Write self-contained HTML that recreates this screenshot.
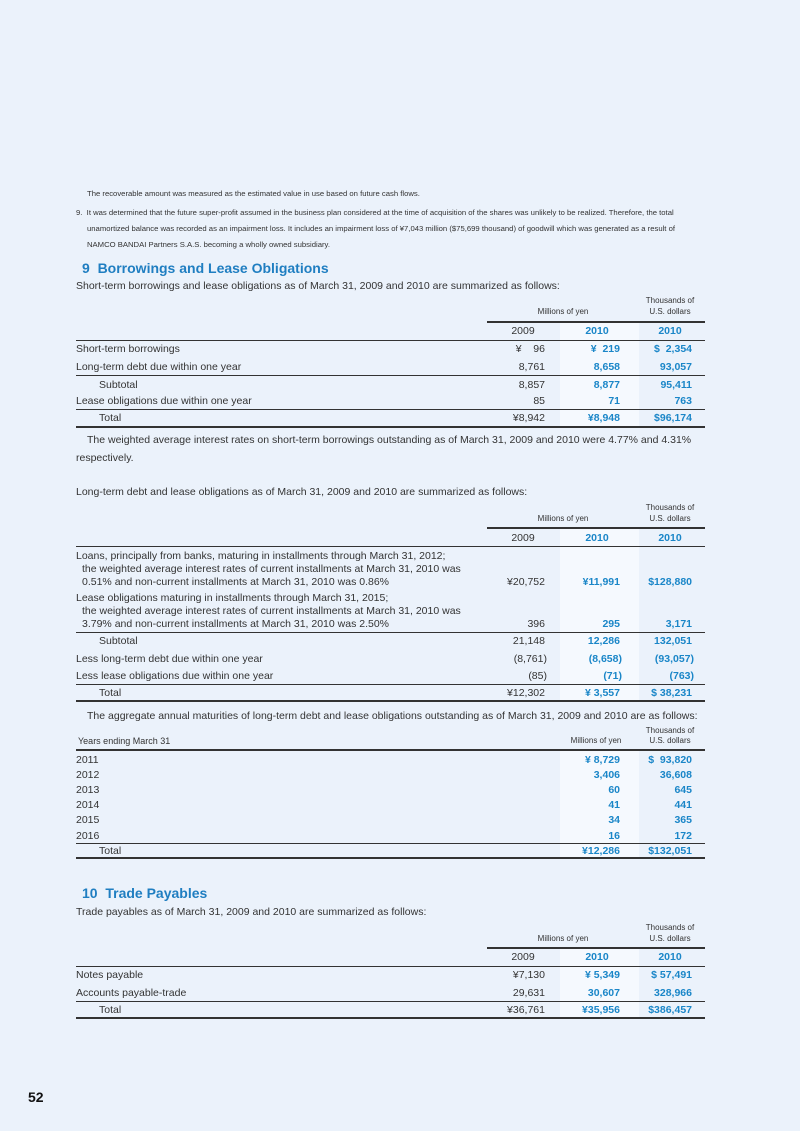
<!DOCTYPE html>
<html><head><meta charset="utf-8">
<style>
body{margin:0;}
#page{position:relative;width:800px;height:1131px;background:#ebf2fb;font-family:"Liberation Sans",sans-serif;color:#333;overflow:hidden;}
.t{position:absolute;white-space:nowrap;line-height:12px;font-size:10.5px;}
.s{font-size:7.7px;line-height:10px;}
.h{font-size:8px;line-height:10px;text-align:center;width:80px;}
.b{color:#1a86c8;font-weight:bold;}
.r{text-align:right;}
.c{text-align:center;width:60px;}
.ln{position:absolute;height:1px;background:#333;}
.tk{height:1.5px;}
.hl{position:absolute;background:#f5f9fe;}
h2{position:absolute;margin:0;font-size:14px;font-weight:bold;color:#1f7ec1;white-space:nowrap;line-height:16px;}
</style></head><body>
<div id="page">

<div class="t s" style="left:87px;top:189px">The recoverable amount was measured as the estimated value in use based on future cash flows.</div>
<div class="t s" style="left:76px;top:208px">9.&nbsp; It was determined that the future super-profit assumed in the business plan considered at the time of acquisition of the shares was unlikely to be realized. Therefore, the total</div>
<div class="t s" style="left:87px;top:224px">unamortized balance was recorded as an impairment loss. It includes an impairment loss of ¥7,043 million ($75,699 thousand) of goodwill which was generated as a result of</div>
<div class="t s" style="left:87px;top:240px">NAMCO BANDAI Partners S.A.S. becoming a wholly owned subsidiary.</div>

<!-- Section 9 -->
<h2 style="left:82px;top:260px">9&nbsp; Borrowings and Lease Obligations</h2>
<div class="t" style="left:76px;top:280px">Short-term borrowings and lease obligations as of March 31, 2009 and 2010 are summarized as follows:</div>

<div class="hl" style="left:560px;top:322px;width:79px;height:105px"></div>
<div class="t h" style="left:630px;top:296px">Thousands of</div>
<div class="t h" style="left:630px;top:307px">U.S. dollars</div>
<div class="t h" style="left:523px;top:307px">Millions of yen</div>
<div class="ln tk" style="left:487px;top:321px;width:218px"></div>
<div class="t c" style="left:493px;top:325px">2009</div>
<div class="t c b" style="left:567px;top:325px">2010</div>
<div class="t c b" style="left:640px;top:325px">2010</div>
<div class="ln" style="left:76px;top:340px;width:629px"></div>

<div class="t" style="left:76px;top:343px">Short-term borrowings</div>
<div class="t r" style="right:255px;top:343px">¥&nbsp;&nbsp;&nbsp;&nbsp;96</div>
<div class="t r b" style="right:180px;top:343px">¥&nbsp;&nbsp;219</div>
<div class="t r b" style="right:108px;top:343px">$&nbsp;&nbsp;2,354</div>
<div class="t" style="left:76px;top:361px">Long-term debt due within one year</div>
<div class="t r" style="right:255px;top:361px">8,761</div>
<div class="t r b" style="right:180px;top:361px">8,658</div>
<div class="t r b" style="right:108px;top:361px">93,057</div>
<div class="ln" style="left:76px;top:375px;width:629px"></div>
<div class="t" style="left:99px;top:379px">Subtotal</div>
<div class="t r" style="right:255px;top:379px">8,857</div>
<div class="t r b" style="right:180px;top:379px">8,877</div>
<div class="t r b" style="right:108px;top:379px">95,411</div>
<div class="t" style="left:76px;top:395px">Lease obligations due within one year</div>
<div class="t r" style="right:255px;top:395px">85</div>
<div class="t r b" style="right:180px;top:395px">71</div>
<div class="t r b" style="right:108px;top:395px">763</div>
<div class="ln" style="left:76px;top:409px;width:629px"></div>
<div class="t" style="left:99px;top:412px">Total</div>
<div class="t r" style="right:255px;top:412px">¥8,942</div>
<div class="t r b" style="right:180px;top:412px">¥8,948</div>
<div class="t r b" style="right:108px;top:412px">$96,174</div>
<div class="ln tk" style="left:76px;top:426px;width:629px"></div>

<div class="t" style="left:87px;top:434px">The weighted average interest rates on short-term borrowings outstanding as of March 31, 2009 and 2010 were 4.77% and 4.31%</div>
<div class="t" style="left:76px;top:452px">respectively.</div>

<!-- Long-term table -->
<div class="t" style="left:76px;top:486px">Long-term debt and lease obligations as of March 31, 2009 and 2010 are summarized as follows:</div>
<div class="hl" style="left:560px;top:528px;width:79px;height:172px"></div>
<div class="t h" style="left:630px;top:503px">Thousands of</div>
<div class="t h" style="left:630px;top:514px">U.S. dollars</div>
<div class="t h" style="left:523px;top:514px">Millions of yen</div>
<div class="ln tk" style="left:487px;top:527px;width:218px"></div>
<div class="t c" style="left:493px;top:532px">2009</div>
<div class="t c b" style="left:567px;top:532px">2010</div>
<div class="t c b" style="left:640px;top:532px">2010</div>
<div class="ln" style="left:76px;top:546px;width:629px"></div>

<div class="t" style="left:76px;top:550px">Loans, principally from banks, maturing in installments through March 31, 2012;</div>
<div class="t" style="left:82px;top:563px">the weighted average interest rates of current installments at March 31, 2010 was</div>
<div class="t" style="left:82px;top:576px">0.51% and non-current installments at March 31, 2010 was 0.86%</div>
<div class="t r" style="right:255px;top:576px">¥20,752</div>
<div class="t r b" style="right:180px;top:576px">¥11,991</div>
<div class="t r b" style="right:108px;top:576px">$128,880</div>
<div class="t" style="left:76px;top:592px">Lease obligations maturing in installments through March 31, 2015;</div>
<div class="t" style="left:82px;top:605px">the weighted average interest rates of current installments at March 31, 2010 was</div>
<div class="t" style="left:82px;top:618px">3.79% and non-current installments at March 31, 2010 was 2.50%</div>
<div class="t r" style="right:255px;top:618px">396</div>
<div class="t r b" style="right:180px;top:618px">295</div>
<div class="t r b" style="right:108px;top:618px">3,171</div>
<div class="ln" style="left:76px;top:632px;width:629px"></div>
<div class="t" style="left:99px;top:635px">Subtotal</div>
<div class="t r" style="right:255px;top:635px">21,148</div>
<div class="t r b" style="right:180px;top:635px">12,286</div>
<div class="t r b" style="right:108px;top:635px">132,051</div>
<div class="t" style="left:76px;top:653px">Less long-term debt due within one year</div>
<div class="t r" style="right:253px;top:653px">(8,761)</div>
<div class="t r b" style="right:178px;top:653px">(8,658)</div>
<div class="t r b" style="right:106px;top:653px">(93,057)</div>
<div class="t" style="left:76px;top:670px">Less lease obligations due within one year</div>
<div class="t r" style="right:253px;top:670px">(85)</div>
<div class="t r b" style="right:178px;top:670px">(71)</div>
<div class="t r b" style="right:106px;top:670px">(763)</div>
<div class="ln" style="left:76px;top:684px;width:629px"></div>
<div class="t" style="left:99px;top:687px">Total</div>
<div class="t r" style="right:255px;top:687px">¥12,302</div>
<div class="t r b" style="right:180px;top:687px">¥&nbsp;3,557</div>
<div class="t r b" style="right:108px;top:687px">$&nbsp;38,231</div>
<div class="ln tk" style="left:76px;top:700px;width:629px"></div>

<!-- Maturities -->
<div class="t" style="left:87px;top:710px">The aggregate annual maturities of long-term debt and lease obligations outstanding as of March 31, 2009 and 2010 are as follows:</div>
<div class="hl" style="left:560px;top:750px;width:79px;height:108px"></div>
<div class="t h" style="left:630px;top:726px">Thousands of</div>
<div class="t h" style="left:630px;top:736px">U.S. dollars</div>
<div class="t h" style="left:556px;top:736px">Millions of yen</div>
<div class="t" style="left:78px;top:735px;font-size:9px">Years ending March 31</div>
<div class="ln tk" style="left:76px;top:749px;width:629px"></div>
<div class="t" style="left:76px;top:754px">2011</div>
<div class="t r b" style="right:180px;top:754px">¥&nbsp;8,729</div>
<div class="t r b" style="right:108px;top:754px">$&nbsp;&nbsp;93,820</div>
<div class="t" style="left:76px;top:769px">2012</div>
<div class="t r b" style="right:180px;top:769px">3,406</div>
<div class="t r b" style="right:108px;top:769px">36,608</div>
<div class="t" style="left:76px;top:784px">2013</div>
<div class="t r b" style="right:180px;top:784px">60</div>
<div class="t r b" style="right:108px;top:784px">645</div>
<div class="t" style="left:76px;top:799px">2014</div>
<div class="t r b" style="right:180px;top:799px">41</div>
<div class="t r b" style="right:108px;top:799px">441</div>
<div class="t" style="left:76px;top:814px">2015</div>
<div class="t r b" style="right:180px;top:814px">34</div>
<div class="t r b" style="right:108px;top:814px">365</div>
<div class="t" style="left:76px;top:830px">2016</div>
<div class="t r b" style="right:180px;top:830px">16</div>
<div class="t r b" style="right:108px;top:830px">172</div>
<div class="ln" style="left:76px;top:843px;width:629px"></div>
<div class="t" style="left:99px;top:845px">Total</div>
<div class="t r b" style="right:180px;top:845px">¥12,286</div>
<div class="t r b" style="right:108px;top:845px">$132,051</div>
<div class="ln tk" style="left:76px;top:857px;width:629px"></div>

<!-- Section 10 -->
<h2 style="left:82px;top:885px">10&nbsp; Trade Payables</h2>
<div class="t" style="left:76px;top:906px">Trade payables as of March 31, 2009 and 2010 are summarized as follows:</div>
<div class="hl" style="left:560px;top:948px;width:79px;height:70px"></div>
<div class="t h" style="left:630px;top:923px">Thousands of</div>
<div class="t h" style="left:630px;top:934px">U.S. dollars</div>
<div class="t h" style="left:523px;top:934px">Millions of yen</div>
<div class="ln tk" style="left:487px;top:947px;width:218px"></div>
<div class="t c" style="left:493px;top:951px">2009</div>
<div class="t c b" style="left:567px;top:951px">2010</div>
<div class="t c b" style="left:640px;top:951px">2010</div>
<div class="ln" style="left:76px;top:966px;width:629px"></div>
<div class="t" style="left:76px;top:969px">Notes payable</div>
<div class="t r" style="right:255px;top:969px">¥7,130</div>
<div class="t r b" style="right:180px;top:969px">¥&nbsp;5,349</div>
<div class="t r b" style="right:108px;top:969px">$&nbsp;57,491</div>
<div class="t" style="left:76px;top:987px">Accounts payable-trade</div>
<div class="t r" style="right:255px;top:987px">29,631</div>
<div class="t r b" style="right:180px;top:987px">30,607</div>
<div class="t r b" style="right:108px;top:987px">328,966</div>
<div class="ln" style="left:76px;top:1001px;width:629px"></div>
<div class="t" style="left:99px;top:1004px">Total</div>
<div class="t r" style="right:255px;top:1004px">¥36,761</div>
<div class="t r b" style="right:180px;top:1004px">¥35,956</div>
<div class="t r b" style="right:108px;top:1004px">$386,457</div>
<div class="ln tk" style="left:76px;top:1017px;width:629px"></div>

<div class="t" style="left:28px;top:1089px;font-size:14px;line-height:16px;font-weight:bold;color:#111">52</div>
</div>
</body></html>
